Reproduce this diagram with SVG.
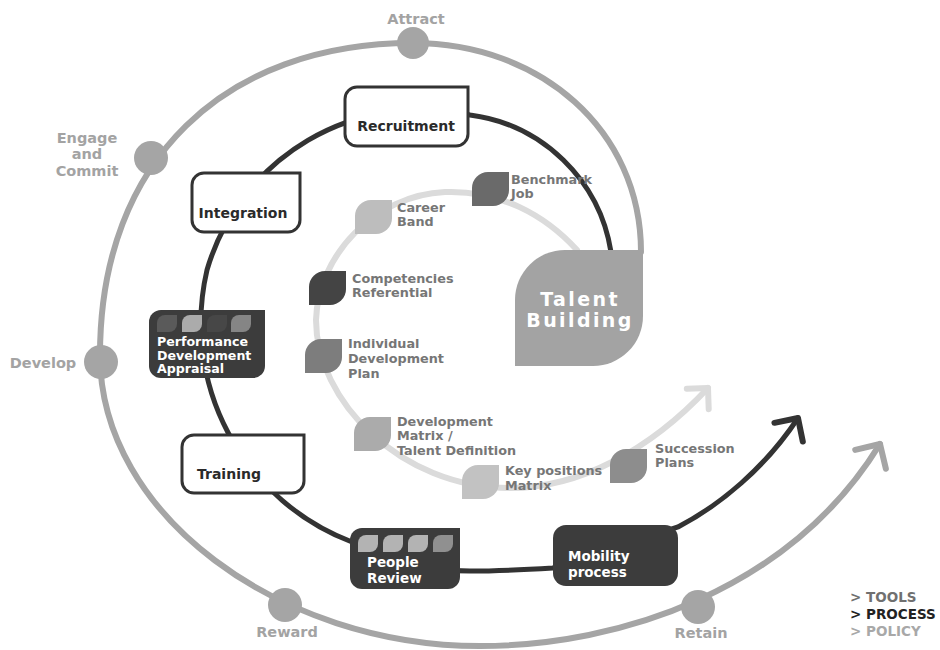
<svg xmlns="http://www.w3.org/2000/svg" width="940" height="650" viewBox="0 0 940 650">
  <defs>
    <style>
      .outer { fill: none; stroke: #a5a5a5; stroke-width: 6; stroke-linecap: round; }
      .process { fill: none; stroke: #333333; stroke-width: 5; stroke-linecap: round; }
      .tools { fill: none; stroke: #dbdbdb; stroke-width: 6; stroke-linecap: round; }
      .dot { fill: #a5a5a5; }
      .olabel { font-family: "DejaVu Sans", "Liberation Sans", sans-serif; font-weight: bold; font-size: 14.5px; fill: #a3a3a3; text-anchor: middle; }
      .wbox { fill: #ffffff; stroke: #333333; stroke-width: 3; }
      .dbox { fill: #3c3c3c; }
      .btext { font-family: "DejaVu Sans", "Liberation Sans", sans-serif; font-weight: bold; font-size: 14px; fill: #2a2a2a; }
      .wtext { font-family: "DejaVu Sans", "Liberation Sans", sans-serif; font-weight: bold; font-size: 13.5px; fill: #ffffff; }
      .ptext { font-family: "DejaVu Sans", "Liberation Sans", sans-serif; font-weight: bold; font-size: 12.6px; fill: #ffffff; }
      .tlabel { font-family: "DejaVu Sans", "Liberation Sans", sans-serif; font-weight: bold; font-size: 12.8px; fill: #767676; }
      .legend { font-family: "DejaVu Sans", "Liberation Sans", sans-serif; font-weight: bold; font-size: 13.5px; }
    </style>
    <path id="leaf" d="M0,34 V16 A16,16 0 0 1 16,0 H37 V18 A16,16 0 0 1 21,34 Z"/>
    <path id="sleaf" d="M0,17 V8 A8,8 0 0 1 8,0 H20 V9 A8,8 0 0 1 12,17 Z"/>
    <marker id="arrOuter" markerUnits="userSpaceOnUse" markerWidth="50" markerHeight="50" viewBox="-25 -25 50 50" refX="0" refY="0" orient="auto" overflow="visible">
      <path d="M-18,-18 L0,0 L-18,18" fill="none" stroke="#a5a5a5" stroke-width="6" stroke-linecap="round" stroke-linejoin="round"/>
    </marker>
    <marker id="arrProcess" markerUnits="userSpaceOnUse" markerWidth="50" markerHeight="50" viewBox="-25 -25 50 50" refX="0" refY="0" orient="auto" overflow="visible">
      <path d="M-17,-17 L0,0 L-17,17" fill="none" stroke="#333333" stroke-width="6" stroke-linecap="round" stroke-linejoin="round"/>
    </marker>
    <marker id="arrTools" markerUnits="userSpaceOnUse" markerWidth="50" markerHeight="50" viewBox="-25 -25 50 50" refX="0" refY="0" orient="auto" overflow="visible">
      <path d="M-15,-15 L0,0 L-15,15" fill="none" stroke="#dbdbdb" stroke-width="6" stroke-linecap="round" stroke-linejoin="round"/>
    </marker>
  </defs>

  <rect width="940" height="650" fill="#ffffff"/>

  <g id="connectors">
    <path class="outer" marker-end="url(#arrOuter)" d="M641,252 C641,130 540,43 413,43 C225,43 100,160 100,355 C100,515 280,646 480,646 C620,646 790,590 880,444"/>
    <path class="tools" marker-end="url(#arrTools)" d="M577,250 C545,215 500,190 445,192 C375,195 318,255 316,320 C316,400 400,488 510,488 C580,488 650,450 708,388"/>
    <path class="process" marker-end="url(#arrProcess)" d="M611,252 A164,164 0 0 0 470,115 A223,223 0 0 0 207,270 A234,234 0 0 0 352,542 C395,566 430,571 470,571 C500,571 520,570 553,568 L678,527 C720,505 765,468 798,418"/>
  </g>

  <g id="stage-attract">
    <circle class="dot" cx="413" cy="43" r="16"/>
    <text class="olabel" x="416" y="24">Attract</text>
  </g>
  <g id="stage-engage">
    <circle class="dot" cx="151" cy="158" r="17"/>
    <text class="olabel" x="87" y="143">Engage</text>
    <text class="olabel" x="87" y="159">and</text>
    <text class="olabel" x="87" y="176">Commit</text>
  </g>
  <g id="stage-develop">
    <circle class="dot" cx="101" cy="362" r="17"/>
    <text class="olabel" x="43" y="368">Develop</text>
  </g>
  <g id="stage-reward">
    <circle class="dot" cx="285" cy="605" r="17"/>
    <text class="olabel" x="287" y="637">Reward</text>
  </g>
  <g id="stage-retain">
    <circle class="dot" cx="698" cy="607" r="17"/>
    <text class="olabel" x="701" y="638">Retain</text>
  </g>

  <g id="talent-building">
    <path d="M515,366 V300 A50,50 0 0 1 565,250 H643 V316 A50,50 0 0 1 593,366 Z" fill="#a3a3a3"/>
    <text x="580" y="306" text-anchor="middle" font-family="DejaVu Sans, Liberation Sans, sans-serif" font-weight="bold" font-size="19" letter-spacing="2.4" fill="#ffffff">Talent</text>
    <text x="580" y="327" text-anchor="middle" font-family="DejaVu Sans, Liberation Sans, sans-serif" font-weight="bold" font-size="19" letter-spacing="2.4" fill="#ffffff">Building</text>
  </g>

  <g id="recruitment">
    <path class="wbox" d="M357,87 H468 V134 A12,12 0 0 1 456,146 H357 A12,12 0 0 1 345,134 V99 A12,12 0 0 1 357,87 Z"/>
    <text class="btext" x="406" y="131" text-anchor="middle">Recruitment</text>
  </g>
  <g id="integration">
    <path class="wbox" d="M204,173 H300 V220 A12,12 0 0 1 288,232 H204 A12,12 0 0 1 192,220 V185 A12,12 0 0 1 204,173 Z"/>
    <text class="btext" x="243" y="218" text-anchor="middle">Integration</text>
  </g>
  <g id="performance">
    <path class="dbox" d="M161,310 H265 V366 A12,12 0 0 1 253,378 H161 A12,12 0 0 1 149,366 V322 A12,12 0 0 1 161,310 Z"/>
    <use href="#sleaf" x="157" y="315" fill="#5a5a5a"/>
    <use href="#sleaf" x="182" y="315" fill="#ababab"/>
    <use href="#sleaf" x="207" y="315" fill="#474747"/>
    <use href="#sleaf" x="231" y="315" fill="#858585"/>
    <text class="ptext" x="157" y="346">Performance</text>
    <text class="ptext" x="157" y="359.5">Development</text>
    <text class="ptext" x="157" y="373">Appraisal</text>
  </g>
  <g id="training">
    <path class="wbox" d="M194,435 H304 V481 A12,12 0 0 1 292,493 H194 A12,12 0 0 1 182,481 V447 A12,12 0 0 1 194,435 Z"/>
    <text class="btext" x="197" y="479">Training</text>
  </g>
  <g id="people-review">
    <path class="dbox" d="M362,528 H460 V577 A12,12 0 0 1 448,589 H362 A12,12 0 0 1 350,577 V540 A12,12 0 0 1 362,528 Z"/>
    <use href="#sleaf" x="358" y="535" fill="#b3b3b3"/>
    <use href="#sleaf" x="383" y="535" fill="#b3b3b3"/>
    <use href="#sleaf" x="408" y="535" fill="#b3b3b3"/>
    <use href="#sleaf" x="433" y="535" fill="#909090"/>
    <text class="wtext" x="367" y="567">People</text>
    <text class="wtext" x="367" y="583">Review</text>
  </g>
  <g id="mobility">
    <rect class="dbox" x="553" y="525" width="125" height="61" rx="13"/>
    <text class="wtext" x="568" y="561">Mobility</text>
    <text class="wtext" x="568" y="577">process</text>
  </g>

  <g id="benchmark-job">
    <use href="#leaf" x="472" y="172" fill="#6a6a6a"/>
    <text class="tlabel" x="511" y="184">Benchmark</text>
    <text class="tlabel" x="511" y="198">Job</text>
  </g>
  <g id="career-band">
    <use href="#leaf" x="355" y="200" fill="#bdbdbd"/>
    <text class="tlabel" x="397" y="212">Career</text>
    <text class="tlabel" x="397" y="226">Band</text>
  </g>
  <g id="competencies">
    <use href="#leaf" x="309" y="271" fill="#444444"/>
    <text class="tlabel" x="352" y="283">Competencies</text>
    <text class="tlabel" x="352" y="297">Referential</text>
  </g>
  <g id="idp">
    <use href="#leaf" x="305" y="339" fill="#7d7d7d"/>
    <text class="tlabel" x="348" y="348">Individual</text>
    <text class="tlabel" x="348" y="363">Development</text>
    <text class="tlabel" x="348" y="378">Plan</text>
  </g>
  <g id="development-matrix">
    <use href="#leaf" x="354" y="417" fill="#ababab"/>
    <text class="tlabel" x="397" y="426">Development</text>
    <text class="tlabel" x="397" y="440">Matrix /</text>
    <text class="tlabel" x="397" y="455">Talent Definition</text>
  </g>
  <g id="key-positions">
    <use href="#leaf" x="462" y="465" fill="#c2c2c2"/>
    <text class="tlabel" x="505" y="475">Key positions</text>
    <text class="tlabel" x="505" y="490">Matrix</text>
  </g>
  <g id="succession-plans">
    <use href="#leaf" x="610" y="449" fill="#8d8d8d"/>
    <text class="tlabel" x="655" y="453">Succession</text>
    <text class="tlabel" x="655" y="467">Plans</text>
  </g>

  <g id="legend">
    <text class="legend" x="850" y="602" fill="#707070">&gt; TOOLS</text>
    <text class="legend" x="850" y="619" fill="#222222">&gt; PROCESS</text>
    <text class="legend" x="850" y="636" fill="#a8a8a8">&gt; POLICY</text>
  </g>
</svg>
